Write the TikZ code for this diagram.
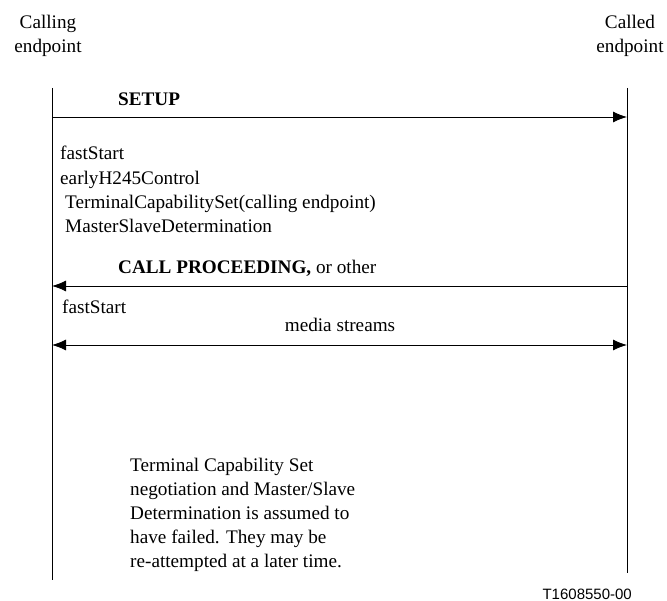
\documentclass[tikz,border=0pt]{standalone}
\usepackage{fontspec}
\setmainfont{Liberation Serif}
\newfontfamily\labelsans{Liberation Sans}
\usetikzlibrary{arrows.meta}
\begin{document}
\begin{tikzpicture}[x=1pt,y=-1pt,
  txt/.style={inner sep=0pt,font=\fontsize{19.2}{24}\selectfont},
  life/.style={line width=0.9pt},
  msg/.style={line width=0.9pt,-{Latex[length=14pt,width=11pt]}},
  msgboth/.style={line width=0.9pt,{Latex[length=14pt,width=11pt]}-{Latex[length=14pt,width=11pt]}}]
\useasboundingbox (0,0) rectangle (667,601);
% headers
\node[txt,align=center] (hA) at (48,36) {Calling\\endpoint};
\node[txt,align=center] (hB) at (630,36) {Called\\endpoint};
% lifelines
\coordinate (aTop) at (52,88);
\coordinate (aBot) at (52,580);
\coordinate (bTop) at (627,88);
\coordinate (bBot) at (627,573);
\draw[life] (aTop) -- (aBot);
\draw[life] (bTop) -- (bBot);
% SETUP
\coordinate (s1) at (52,117);
\coordinate (s2) at (627,117);
\draw[msg] (s1) -- (s2);
\node[txt,anchor=base west,font=\fontsize{19.2}{24}\selectfont\bfseries] (setup) at (118,106) {SETUP};
\node[txt,anchor=base west] (t1) at (60,160) {fastStart};
\node[txt,anchor=base west] (t2) at (60,185) {earlyH245Control};
\node[txt,anchor=base west] (t3) at (65,209) {TerminalCapabilitySet(calling endpoint)};
\node[txt,anchor=base west] (t4) at (65,233) {MasterSlaveDetermination};
% CALL PROCEEDING
\coordinate (c1) at (627,286);
\coordinate (c2) at (52,286);
\draw[msg] (c1) -- (c2);
\node[txt,anchor=base west] (cp) at (118,274) {\textbf{CALL PROCEEDING,} or other};
\node[txt,anchor=base west] (t5) at (62,314) {fastStart};
% media streams
\coordinate (m1) at (52,345);
\coordinate (m2) at (627,345);
\draw[msgboth] (m1) -- (m2);
\node[txt,anchor=base] (ms) at (340,332) {media streams};
% paragraph
\node[txt,anchor=north west,align=left] (par) at (130,458) {Terminal Capability Set\\negotiation and Master/Slave\\Determination is assumed to\\have failed. They may be\\re-attempted at a later time.};
\node[inner sep=0pt,anchor=base east,font=\labelsans\fontsize{15}{18}\selectfont] (id) at (632,599) {T1608550-00};
\end{tikzpicture}
\end{document}
